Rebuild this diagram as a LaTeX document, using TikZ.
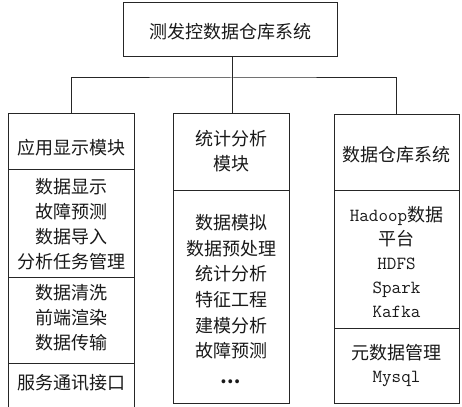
\documentclass[tikz,border=0pt]{standalone}
\usepackage{fontspec}
\setmainfont{Noto Sans CJK SC}
\newcommand{\lat}[1]{{\ttfamily\fontsize{18.5}{24}\selectfont #1}}
\begin{document}
\begin{tikzpicture}[x=1pt,y=-1pt,
  box/.style={draw=black!85, line width=1pt, rectangle, inner sep=0pt},
  txt/.style={inner sep=0pt, align=center, font=\fontsize{18}{25}\selectfont, text=black!90},
  link/.style={draw=black!85, line width=1pt}]
\useasboundingbox (0,0) rectangle (462,406);
% top
\node[box, minimum width=214pt, minimum height=54pt] (top) at (230,30) {};
\node[txt] (topt) at (230,32) {测发控数据仓库系统};
% left column
\node[box, minimum width=126pt, minimum height=55pt] (L1) at (71,141.5) {};
\node[box, minimum width=126pt, minimum height=108pt] (L2) at (71,223) {};
\node[box, minimum width=126pt, minimum height=86pt] (L3) at (71,320) {};
\node[box, minimum width=126pt, minimum height=44pt] (L4) at (71,385) {};
\node[txt] (L1t) at (71,148) {应用显示模块};
\node[txt] (L2t) at (71,224) {数据显示\\故障预测\\数据导入\\分析任务管理};
\node[txt] (L3t) at (71,318) {数据清洗\\前端渲染\\数据传输};
\node[txt] (L4t) at (71,383) {服务通讯接口};
% middle column
\node[box, minimum width=116pt, minimum height=76pt] (M1) at (231,152) {};
\node[box, minimum width=116pt, minimum height=213pt] (M2) at (231,296.5) {};
\node[txt] (M1t) at (231,151.5) {统计分析\\模块};
\node[txt, font=\fontsize{18}{25.6}\selectfont] (M2t) at (231,299) {数据模拟\\数据预处理\\统计分析\\特征工程\\建模分析\\故障预测\\\textbf{…}};
% right column
\node[box, minimum width=125pt, minimum height=75pt] (R1) at (396.5,152.5) {};
\node[box, minimum width=125pt, minimum height=138pt] (R2) at (396.5,259) {};
\node[box, minimum width=125pt, minimum height=75pt] (R3) at (396.5,365.5) {};
\node[txt] (R1t) at (396.5,155) {数据仓库系统};
\node[txt, font=\fontsize{18}{24}\selectfont] (R2t) at (396.5,262) {\lat{Hadoop}数据\\平台\\\lat{HDFS}\\\lat{Spark}\\\lat{Kafka}};
\node[txt, font=\fontsize{18}{23}\selectfont] (R3t) at (396.5,366) {元数据管理\\\lat{Mysql}};
% connectors
\coordinate (bus) at (232,78);
\draw[link] (top.south -| bus) -- (bus);
\draw[link] (L1.north) |- (bus) -| (R1.north);
\draw[link] (bus) -- (M1.north -| bus);
\end{tikzpicture}
\end{document}
